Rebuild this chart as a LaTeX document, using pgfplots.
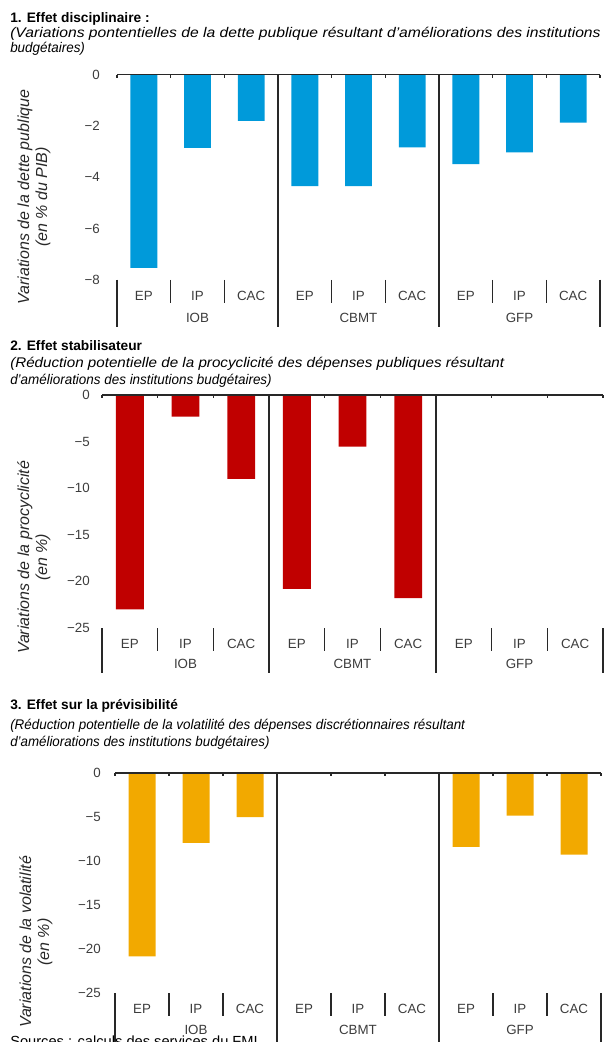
\documentclass[border=0pt]{standalone}
\usepackage{graphicx}
\usepackage{pgfplots}
\pgfplotsset{compat=1.18}
\usepackage{fontspec}
\setmainfont{Liberation Sans}
\definecolor{cblue}{RGB}{0,154,218}
\definecolor{cred}{RGB}{192,0,0}
\definecolor{corange}{RGB}{242,169,0}
\definecolor{tgray}{RGB}{60,60,60}
\definecolor{lgray}{RGB}{40,40,40}
\newcommand\fs[1]{\fontsize{#1}{#1}\selectfont}
\pgfplotsset{
  panel/.style={
    scale only axis, anchor=north west, clip=false,
    xmin=0, xmax=9, ymax=0,
    axis line style={draw=none}, major tick style={draw=none},
    xtick={0.5,1.5,2.5,3.5,4.5,5.5,6.5,7.5,8.5},
    xticklabels={EP,IP,CAC,EP,IP,CAC,EP,IP,CAC},
    xticklabel style={font=\fs{10}, text=tgray, anchor=center, inner sep=0pt, yshift=-7.5pt},
    yticklabel style={font=\fs{10}, text=tgray, anchor=east, inner sep=0pt},
    ybar, bar width=0.5, bar shift=0pt,
  },
}
\newcommand\decor[3]{% #1 ymin, #2 group label shift, #3 long line length
  \draw[lgray, line width=0.9pt] (axis cs:0,0) -- (axis cs:9,0);
  \pgfplotsinvokeforeach{0,...,9}{
    \draw[lgray, line width=0.8pt] (axis cs:##1,0) -- ++(0pt,-2.25pt);
    \draw[lgray, line width=0.9pt] (axis cs:##1,#1) -- ++(0pt,-17pt);
  }
  \pgfplotsinvokeforeach{0,9}{
    \draw[lgray, line width=0.9pt] (axis cs:##1,#1) -- ++(0pt,-#3);
  }
  \pgfplotsinvokeforeach{3,6}{
    \draw[lgray, line width=0.9pt] (axis cs:##1,0) -- (axis cs:##1,#1) -- ++(0pt,-#3);
  }
  \node[text=tgray, font=\fs{10}, yshift=#2] at (axis cs:1.5,#1) {IOB};
  \node[text=tgray, font=\fs{10}, yshift=#2] at (axis cs:4.5,#1) {CBMT};
  \node[text=tgray, font=\fs{10}, yshift=#2] at (axis cs:7.5,#1) {GFP};
}
\newcommand\tfont{\bfseries\fontsize{10.3}{12}\selectfont}
\newcommand\sfont{\itshape\fontsize{10.5}{12}\selectfont}
\newcommand\yfont{\itshape\fontsize{12}{13.5}\selectfont}
\begin{document}
\begin{tikzpicture}
\path[use as bounding box] (0pt,0pt) rectangle (453pt,-781.5pt);

% ---------- Panel 1 ----------
\node[anchor=base west, inner sep=0pt, font=\tfont] at (7.5pt,-16.5pt) {1. Effet disciplinaire :};
\node[anchor=base west, inner sep=0pt, font=\sfont] at (7.5pt,-27.75pt) {\scalebox{1.12}[1]{(Variations pontentielles de la dette publique résultant d'améliorations des institutions}};
\node[anchor=base west, inner sep=0pt, font=\sfont] at (7.5pt,-39pt) {\scalebox{0.96}[1]{budgétaires)}};
\node[rotate=90, align=center, text=lgray, font=\yfont] at (25.5pt,-147.75pt) {Variations de la dette publique\\(en \% du PIB)};

\begin{axis}[panel, at={(87.75pt,-55.875pt)}, width=362.25pt, height=154.125pt,
  ymin=-8, ytick={-8,-6,-4,-2,0}, yticklabels={−8,−6,−4,−2,0},
  yticklabel style={xshift=-12.75pt}]
\addplot[fill=cblue, draw=none] coordinates {(0.5,-7.53) (1.5,-2.86) (2.5,-1.81) (3.5,-4.35) (4.5,-4.35) (5.5,-2.84) (6.5,-3.49) (7.5,-3.03) (8.5,-1.87)};
\decor{-8}{-28.5pt}{35pt}
\end{axis}

% ---------- Panel 2 ----------
\node[anchor=base west, inner sep=0pt, font=\tfont] at (7.5pt,-262.5pt) {2. Effet stabilisateur};
\node[anchor=base west, inner sep=0pt, font=\sfont] at (7.5pt,-275.25pt) {\scalebox{1.085}[1]{(Réduction potentielle de la procyclicité des dépenses publiques résultant}};
\node[anchor=base west, inner sep=0pt, font=\sfont] at (7.5pt,-288pt) {\scalebox{0.96}[1]{d'améliorations des institutions budgétaires)}};
\node[rotate=90, align=center, text=lgray, font=\yfont] at (25.5pt,-418pt) {Variations de la procyclicité\\(en \%)};

\begin{axis}[panel, at={(76.5pt,-296.25pt)}, width=375.75pt, height=174.75pt,
  ymin=-25, ytick={-25,-20,-15,-10,-5,0}, yticklabels={−25,−20,−15,−10,−5,0},
  yticklabel style={xshift=-9pt}]
\addplot[fill=cred, draw=none] coordinates {(0.5,-23.0) (1.5,-2.32) (2.5,-9.0) (3.5,-20.8) (4.5,-5.54) (5.5,-21.8)};
\decor{-25}{-27pt}{34pt}
\end{axis}

% ---------- Panel 3 ----------
\node[anchor=base west, inner sep=0pt, font=\tfont] at (7.5pt,-531.75pt) {3. Effet sur la prévisibilité};
\node[anchor=base west, inner sep=0pt, font=\sfont] at (7.5pt,-546.75pt) {\scalebox{0.958}[1]{(Réduction potentielle de la volatilité des dépenses discrétionnaires résultant}};
\node[anchor=base west, inner sep=0pt, font=\sfont] at (7.5pt,-559.5pt) {\scalebox{0.952}[1]{d'améliorations des institutions budgétaires)}};
\node[rotate=90, align=center, text=lgray, font=\yfont] at (27pt,-706.5pt) {Variations de la volatilité\\(en \%)};

\begin{axis}[panel, at={(86.25pt,-579.75pt)}, width=364.5pt, height=165pt,
  ymin=-25, ytick={-25,-20,-15,-10,-5,0}, yticklabels={−25,−20,−15,−10,−5,0},
  yticklabel style={xshift=-10.5pt}]
\addplot[fill=corange, draw=none] coordinates {(0.5,-20.84) (1.5,-7.95) (2.5,-5.0) (6.5,-8.4) (7.5,-4.85) (8.5,-9.28)};
\decor{-25}{-27.75pt}{40pt}
\end{axis}

\node[anchor=base west, inner sep=0pt, font=\fontsize{11}{12}\selectfont] at (7.5pt,-785pt) {Sources : calculs des services du FMI.};
\end{tikzpicture}
\end{document}
